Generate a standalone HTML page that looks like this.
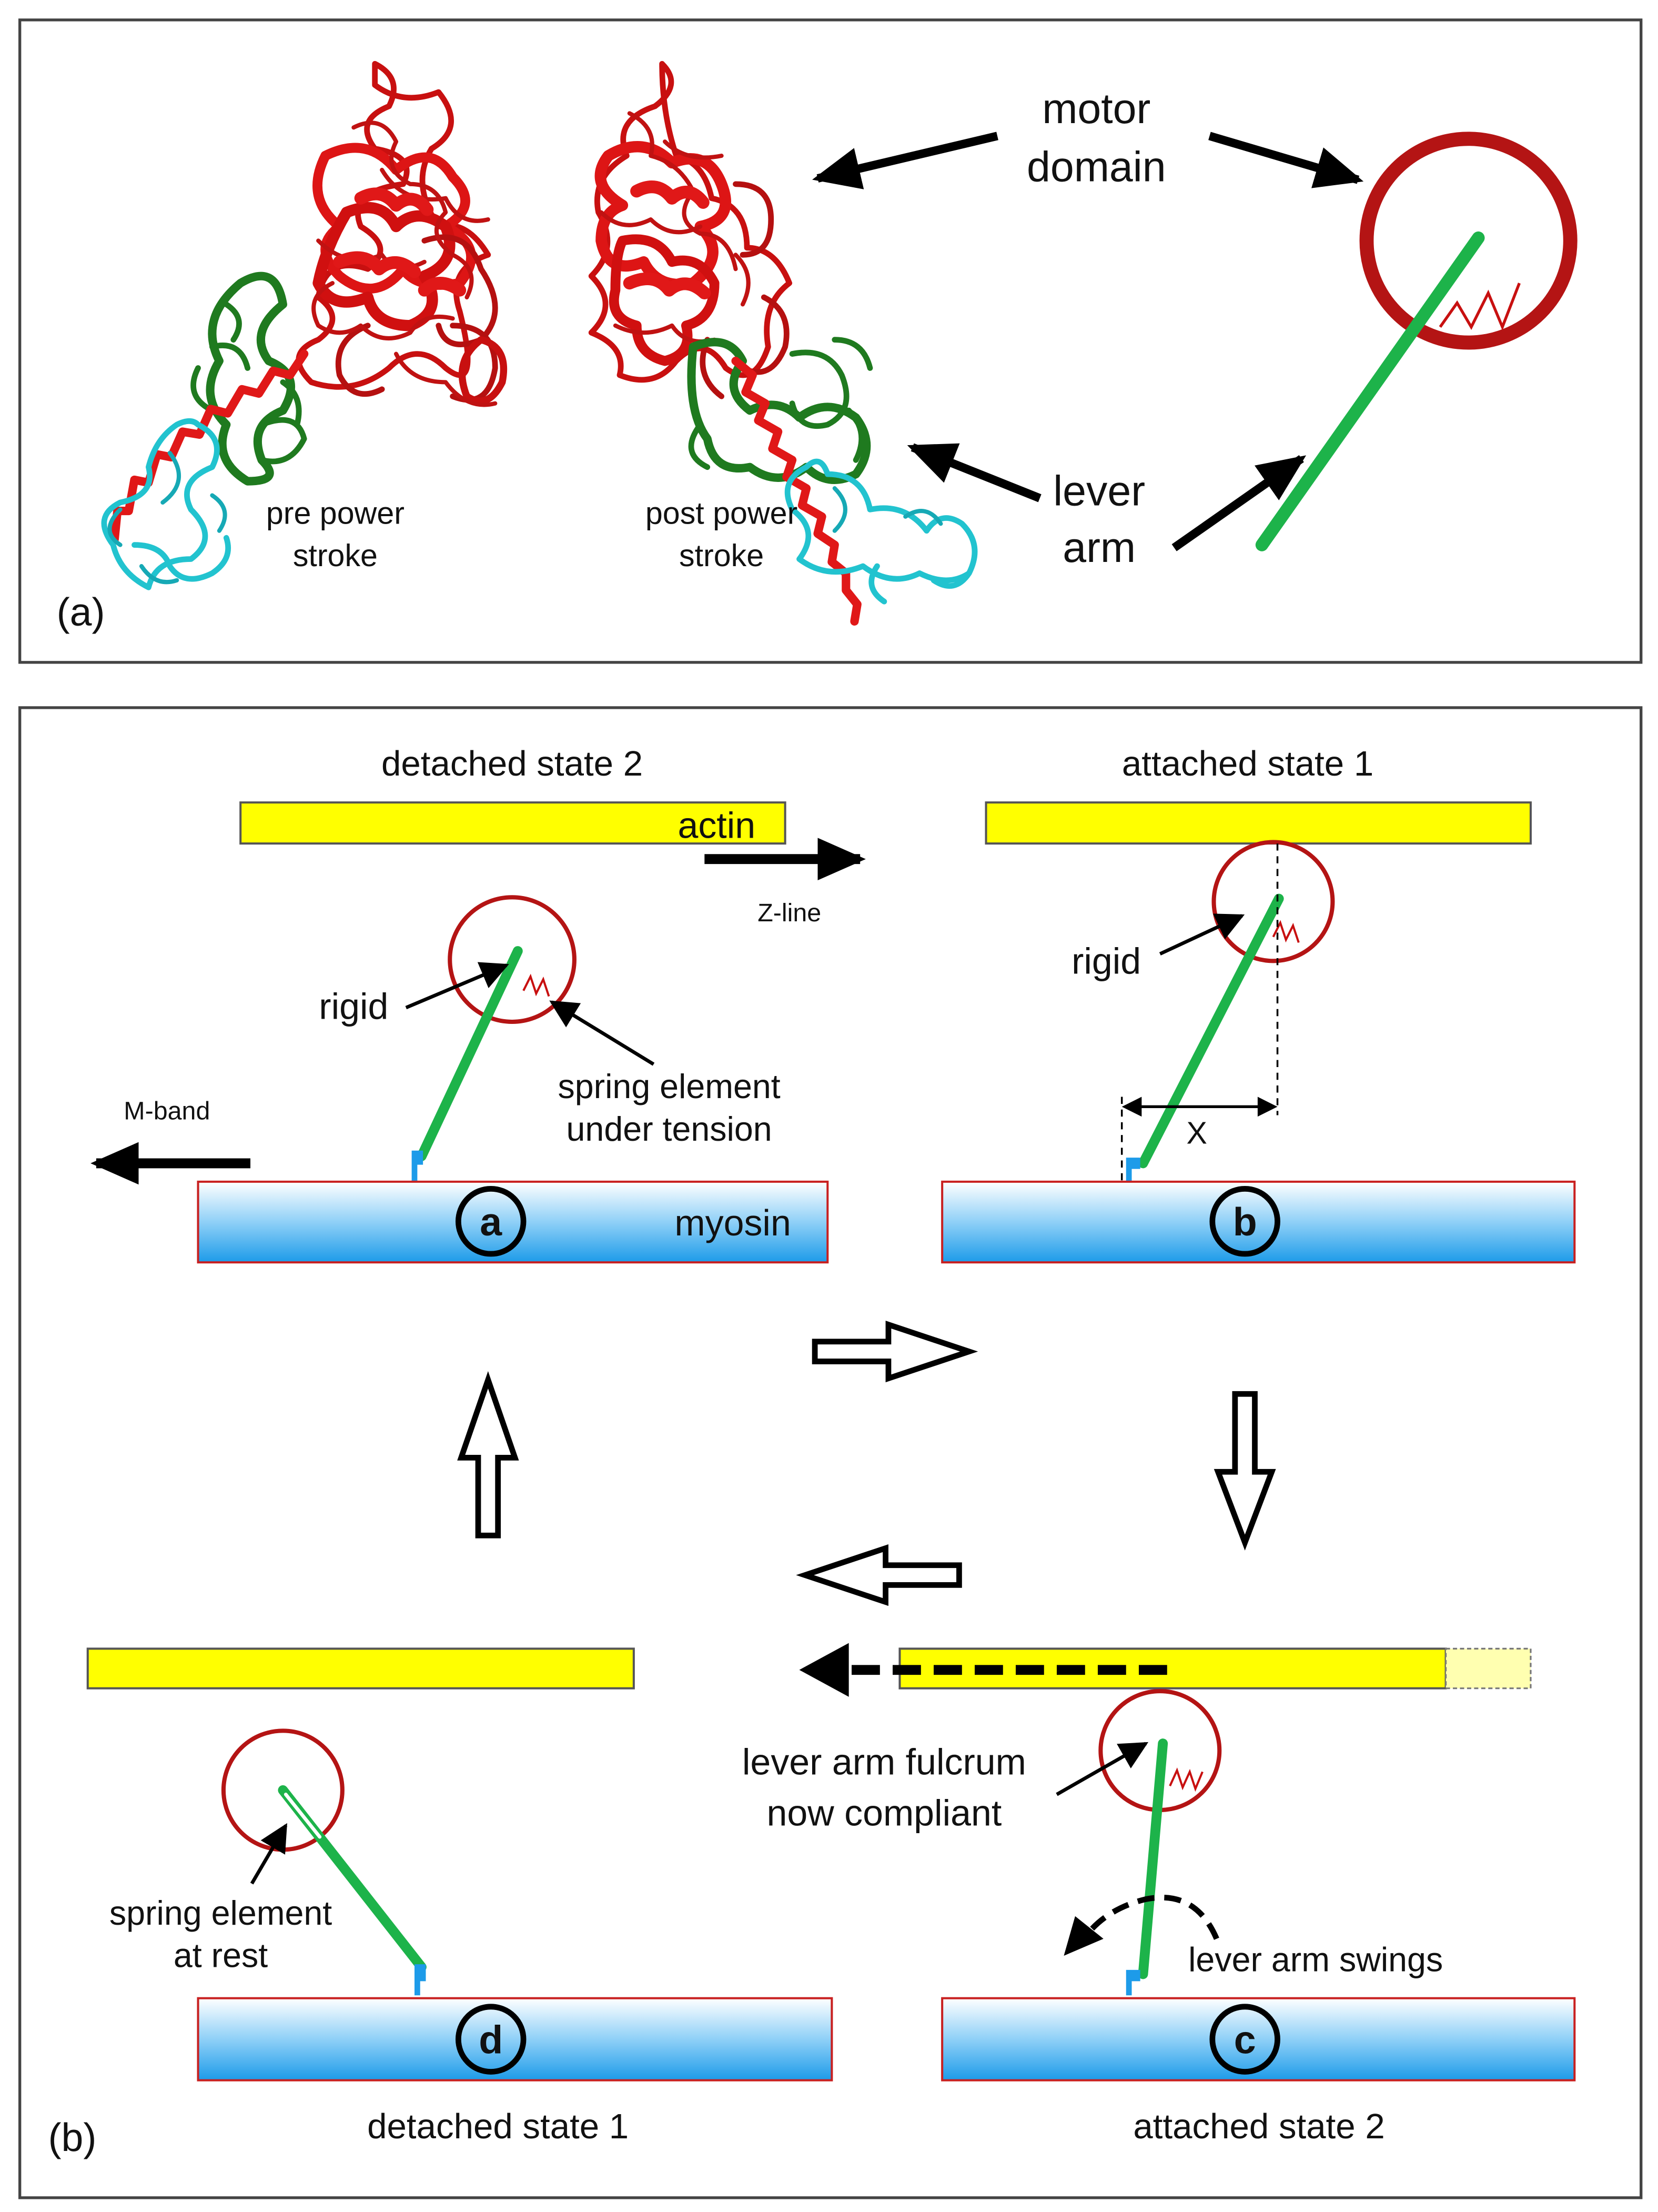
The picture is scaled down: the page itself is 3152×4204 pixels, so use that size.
<!DOCTYPE html>
<html><head><meta charset="utf-8"><style>
html,body{margin:0;padding:0;background:#fff}
svg{display:block}
text{font-family:"Liberation Sans",sans-serif;fill:#111}
</style></head><body>
<svg width="3152" height="4204" viewBox="0 0 1172 1563" xmlns="http://www.w3.org/2000/svg">
<defs>
<linearGradient id="my" x1="0" y1="0" x2="0" y2="1"><stop offset="0" stop-color="#ffffff"/><stop offset="0.5" stop-color="#8fd0f7"/><stop offset="1" stop-color="#1d9be9"/></linearGradient>
<marker id="ahb" markerWidth="34" markerHeight="30" refX="30" refY="15" orient="auto" markerUnits="userSpaceOnUse" viewBox="0 0 34 30"><path d="M0,0 L34,15 L0,30 z" fill="#000"/></marker>
<marker id="ahm" markerWidth="20" markerHeight="20" refX="18" refY="10" orient="auto" markerUnits="userSpaceOnUse" viewBox="0 0 20 20"><path d="M0,0 L20,10 L0,20 z" fill="#000"/></marker>
</defs>
<rect x="14" y="14" width="1146" height="454" fill="#fff" stroke="#444" stroke-width="2"/>
<rect x="14" y="500" width="1146" height="1053" fill="#fff" stroke="#444" stroke-width="2"/>

<!-- pre power stroke protein -->
<g fill="none" stroke-linejoin="round" stroke-linecap="round">
<path d="M265,45 q20,10 10,30 q-25,10 -10,30 q30,5 20,25 q-40,5 -30,30 q25,15 5,30 q-30,-10 -35,20 q20,15 0,30 q-25,10 -5,30 q30,10 55,-10 q20,-20 40,0 q25,20 10,-40 q-10,-30 20,-40 q-15,-25 -35,-20 q-20,-30 -5,-55 q25,-15 5,-40 q-25,10 -45,-5 z" stroke="#c81010" stroke-width="4"/>
<path d="M230,110 q30,-15 50,10 q25,-20 40,5 q20,20 -5,35 q30,15 10,40 q-30,5 -40,-10 q-20,25 -45,5 q-20,-20 0,-35 q-25,-20 -10,-50 z" stroke="#dd1515" stroke-width="7"/>
<path d="M245,150 q25,-10 35,10 q15,-15 35,0 q10,25 -15,35 q15,25 -10,35 q-25,0 -30,-20 q-25,10 -35,-10 q5,-25 20,-50 z" stroke="#d01010" stroke-width="8"/>
<path d="M300,170 q30,-10 40,20 q20,30 0,50 q-25,10 -30,-10 M320,230 q30,0 30,30 q-5,30 -30,20 M260,230 q-25,10 -20,35 q10,20 30,10" stroke="#b51010" stroke-width="4"/>
<path d="M340,240 q20,5 15,30 q-10,20 -25,10 q-10,-25 10,-40 z" stroke="#c81010" stroke-width="5"/>
<path d="M250,90 q20,-10 30,10 q-10,20 10,30 q20,0 25,20 q-15,15 5,30 q20,10 10,30 M235,200 q-20,10 -10,30 q15,10 30,0 q15,15 35,5 q10,-15 30,-10 M270,120 q15,25 45,20 q10,20 30,15 M225,170 q20,20 45,10 q10,15 30,5 M280,250 q10,20 35,20 q15,20 35,15" stroke="#c01212" stroke-width="3"/>
<path d="M255,140 q15,-8 25,5 q12,-10 22,3 M240,185 q18,-8 28,5 q12,-10 25,2 M300,205 q10,-10 25,0" stroke="#e01818" stroke-width="9"/>
<path d="M170,200 q25,-15 30,15 q-25,20 -10,40 q25,10 10,35 q-25,10 -15,35 q15,15 -10,15 q-25,-15 -15,-40 q-20,-20 -5,-45 q-15,-30 15,-55 z" stroke="#1f7a1f" stroke-width="6"/>
<path d="M150,245 q20,-5 25,15 M140,260 q-10,20 10,30 M185,300 q25,-10 30,10 q-10,20 -30,15 M160,215 q15,10 5,25 M200,270 q15,10 10,30" stroke="#1f7a1f" stroke-width="4"/>
<path d="M215,250 l-10,15 l-12,-3 l-10,16 l-12,-3 l-10,17 l-12,-3 l-8,18 l-12,-2 l-8,18 l-10,-2 l-6,20 l-10,-2 l-4,22 l-8,0 l-2,20" stroke="#e01818" stroke-width="6"/>
<path d="M140,300 q20,10 10,30 q-25,10 -15,30 q20,20 0,35 q-25,0 -30,20 q-20,-10 -25,-30 q-15,-20 5,-30 q25,-5 20,-25 q5,-20 20,-30 q10,-5 15,0 M95,385 q20,0 25,15 q10,15 30,5 q15,-10 10,-25" stroke="#22c3cf" stroke-width="4"/>
<path d="M120,320 q15,20 -5,35 M150,350 q15,10 5,25 M85,360 q-15,15 0,25 M100,400 q10,15 25,10" stroke="#16a9b5" stroke-width="3"/>
</g>

<!-- post power stroke protein -->
<g fill="none" stroke-linejoin="round" stroke-linecap="round">
<path d="M468,45 q15,15 -5,30 q-30,10 -20,35 q-25,15 -20,40 q15,25 -5,45 q20,20 0,40 q25,10 20,30 q25,10 40,-10 q20,-20 35,5 q20,15 30,-15 q-5,-30 15,-45 q-10,-25 -30,-25 q0,-30 -25,-35 q-5,-25 -25,-30 q-10,-30 -10,-65 z" stroke="#c81010" stroke-width="4"/>
<path d="M430,110 q25,-15 45,5 q25,-10 35,15 q10,25 -15,30 q20,20 -5,40 q-25,5 -35,-15 q-25,10 -30,-15 q0,-20 15,-25 q-25,-15 -10,-35 z" stroke="#dd1515" stroke-width="8"/>
<path d="M440,170 q25,-5 35,15 q20,-5 30,15 q0,25 -20,30 q5,20 -15,25 q-20,-5 -20,-25 q-20,-5 -15,-25 q0,-25 5,-35 z" stroke="#d01010" stroke-width="7"/>
<path d="M520,130 q25,0 25,25 q0,25 -20,25 M540,210 q20,10 15,35 q-10,25 -30,15 M500,240 q-10,25 10,40" stroke="#b51010" stroke-width="4"/>
<path d="M445,80 q20,10 15,30 q20,5 30,25 q-15,20 5,30 q20,0 25,25 M425,150 q15,15 35,5 q15,15 35,5 M435,230 q20,10 40,0 q10,15 30,10 M470,100 q15,15 40,10 M520,180 q15,15 5,35" stroke="#c01212" stroke-width="3"/>
<path d="M450,135 q15,-8 25,5 q12,-10 22,3 M445,200 q18,-8 28,5 q12,-10 25,2" stroke="#e01818" stroke-width="9"/>
<path d="M490,245 q25,-10 35,10 q-15,20 5,35 q20,-10 35,5 q20,-15 40,0 q15,20 0,40 q-20,10 -35,-5 q-20,15 -40,0 q-25,5 -30,-20 q-15,-20 -10,-65 z" stroke="#1f7a1f" stroke-width="6"/>
<path d="M560,250 q25,-5 35,15 q10,25 -10,35 q-20,5 -25,-15 M590,240 q20,0 25,20 M495,300 q-15,20 5,30 M600,290 q15,15 5,35" stroke="#1f7a1f" stroke-width="4"/>
<path d="M520,255 l12,10 l-5,12 l14,8 l-5,12 l14,8 l-4,12 l14,8 l-4,12 l14,8 l-3,12 l14,8 l-3,12 l12,8 l-2,12 l10,8 l0,12 l8,10 l-2,12" stroke="#e01818" stroke-width="6"/>
<path d="M570,330 q-20,10 -10,30 q20,15 5,35 q20,15 45,5 q20,15 40,5 q20,10 35,0 q10,-20 -5,-35 q-15,-10 -25,5 q-15,-20 -40,-15 q-5,-25 -30,-25 q-5,-15 -15,-5 M620,400 q-10,15 5,25 M660,410 q15,10 25,-5" stroke="#22c3cf" stroke-width="4"/>
<path d="M590,345 q15,15 0,30 M640,365 q15,-10 25,5" stroke="#16a9b5" stroke-width="3"/>
</g>

<text x="237" y="370" font-size="22" text-anchor="middle">pre power</text>
<text x="237" y="400" font-size="22" text-anchor="middle">stroke</text>
<text x="510" y="370" font-size="22" text-anchor="middle">post power</text>
<text x="510" y="400" font-size="22" text-anchor="middle">stroke</text>
<text x="775" y="87" font-size="30" text-anchor="middle">motor</text>
<text x="775" y="128" font-size="30" text-anchor="middle">domain</text>
<text x="777" y="357" font-size="30" text-anchor="middle">lever</text>
<text x="777" y="397" font-size="30" text-anchor="middle">arm</text>
<text x="40" y="442" font-size="28">(a)</text>
<line x1="705" y1="96" x2="578" y2="126" stroke="#000" stroke-width="6" marker-end="url(#ahb)"/>
<line x1="855" y1="96" x2="960" y2="127" stroke="#000" stroke-width="6" marker-end="url(#ahb)"/>
<line x1="735" y1="352" x2="645" y2="316" stroke="#000" stroke-width="6" marker-end="url(#ahb)"/>
<line x1="830" y1="387" x2="920" y2="324" stroke="#000" stroke-width="6" marker-end="url(#ahb)"/>
<circle cx="1038" cy="170" r="72" fill="none" stroke="#b41414" stroke-width="10"/>
<line x1="1045" y1="168" x2="892" y2="385" stroke="#1db34a" stroke-width="9" stroke-linecap="round"/>
<polyline points="1018,231 1030,214 1040,231 1052,207 1062,231 1074,200" fill="none" stroke="#c81010" stroke-width="2"/>

<!-- panel b -->
<text x="362" y="548" font-size="25" text-anchor="middle">detached state 2</text>
<text x="882" y="548" font-size="25" text-anchor="middle">attached state 1</text>
<rect x="170" y="567" width="385" height="29" fill="#ffff00" stroke="#555" stroke-width="1.5"/>
<text x="534" y="592" font-size="26" text-anchor="end">actin</text>
<rect x="697" y="567" width="385" height="29" fill="#ffff00" stroke="#555" stroke-width="1.5"/>
<line x1="498" y1="607" x2="608" y2="607" stroke="#000" stroke-width="7" marker-end="url(#ahb)"/>
<text x="558" y="651" font-size="18" text-anchor="middle">Z-line</text>

<circle cx="362" cy="678" r="44" fill="none" stroke="#b41414" stroke-width="3"/>
<line x1="366" y1="672" x2="298" y2="817" stroke="#1db34a" stroke-width="7" stroke-linecap="round"/>
<path d="M291,813 h8 v10 h-4 v12 h-4 z" fill="#1d9be9"/>
<polyline points="370,700 375,690 379,702 384,692 388,704" fill="none" stroke="#c81010" stroke-width="1.5"/>
<text x="250" y="720" font-size="26" text-anchor="middle">rigid</text>
<line x1="287" y1="712" x2="358" y2="682" stroke="#000" stroke-width="2.5" marker-end="url(#ahm)"/>
<text x="473" y="776" font-size="24" text-anchor="middle">spring element</text>
<text x="473" y="806" font-size="24" text-anchor="middle">under tension</text>
<line x1="462" y1="752" x2="390" y2="708" stroke="#000" stroke-width="2.5" marker-end="url(#ahm)"/>
<text x="118" y="791" font-size="18" text-anchor="middle">M-band</text>
<line x1="177" y1="822" x2="68" y2="822" stroke="#000" stroke-width="7" marker-end="url(#ahb)"/>
<rect x="140" y="835" width="445" height="57" fill="url(#my)" stroke="#c82020" stroke-width="1.5"/>
<circle cx="347" cy="863" r="23" fill="none" stroke="#000" stroke-width="4"/>
<text x="347" y="873" font-size="28" font-weight="bold" text-anchor="middle">a</text>
<text x="518" y="873" font-size="26" text-anchor="middle">myosin</text>

<circle cx="900" cy="637" r="42" fill="none" stroke="#b41414" stroke-width="3"/>
<line x1="904" y1="635" x2="808" y2="822" stroke="#1db34a" stroke-width="7" stroke-linecap="round"/>
<path d="M796,818 h10 v8 h-6 v10 h-4 z" fill="#1d9be9"/>
<polyline points="900,662 905,652 909,664 914,654 918,666" fill="none" stroke="#c81010" stroke-width="1.5"/>
<line x1="903" y1="596" x2="903" y2="788" stroke="#000" stroke-width="1.3" stroke-dasharray="5,4"/>
<line x1="793" y1="775" x2="793" y2="834" stroke="#000" stroke-width="1.3" stroke-dasharray="5,4"/>
<line x1="805" y1="782" x2="891" y2="782" stroke="#000" stroke-width="2"/>
<path d="M793,782 l14,-7 v14 z M903,782 l-14,-7 v14 z" fill="#000"/>
<text x="846" y="808" font-size="22" text-anchor="middle">X</text>
<text x="782" y="688" font-size="26" text-anchor="middle">rigid</text>
<line x1="820" y1="674" x2="878" y2="647" stroke="#000" stroke-width="2.5" marker-end="url(#ahm)"/>
<rect x="666" y="835" width="447" height="57" fill="url(#my)" stroke="#c82020" stroke-width="1.5"/>
<circle cx="880" cy="863" r="23" fill="none" stroke="#000" stroke-width="4"/>
<text x="880" y="873" font-size="28" font-weight="bold" text-anchor="middle">b</text>

<g fill="#fff" stroke="#000" stroke-width="4" stroke-linejoin="miter">
<path d="M576,948 h52 v-12 l57,19 l-57,19 v-12 h-52 z"/>
<path d="M873,985 h14 v55 h12 l-19,50 l-19,-50 h12 z"/>
<path d="M338,1085 h14 v-55 h12 l-19,-55 l-19,55 h12 z"/>
<path d="M678,1106 h-52 v-12 l-57,19 l57,19 v-12 h52 z"/>
</g>

<rect x="62" y="1165" width="386" height="28" fill="#ffff00" stroke="#555" stroke-width="1.5"/>
<rect x="636" y="1165" width="386" height="28" fill="#ffff00" stroke="#555" stroke-width="1.5"/>
<rect x="1022" y="1165" width="60" height="28" fill="#ffffb0" stroke="#777" stroke-width="1.2" stroke-dasharray="3,2"/>
<line x1="825" y1="1180" x2="600" y2="1180" stroke="#000" stroke-width="7" stroke-dasharray="20,9"/>
<path d="M565,1180 l35,-19 v38 z" fill="#000"/>

<circle cx="200" cy="1265" r="42" fill="none" stroke="#b41414" stroke-width="3"/>
<line x1="200" y1="1265" x2="298" y2="1390" stroke="#1db34a" stroke-width="7" stroke-linecap="round"/>
<line x1="202" y1="1268" x2="226" y2="1298" stroke="#fff" stroke-width="2.5" stroke-linecap="round"/>
<path d="M293,1388 h8 v12 h-4 v10 h-4 z" fill="#1d9be9"/>
<text x="156" y="1360" font-size="24" text-anchor="middle">spring element</text>
<text x="156" y="1390" font-size="24" text-anchor="middle">at rest</text>
<line x1="178" y1="1331" x2="202" y2="1290" stroke="#000" stroke-width="2.5" marker-end="url(#ahm)"/>

<circle cx="820" cy="1237" r="42" fill="none" stroke="#b41414" stroke-width="3"/>
<line x1="822" y1="1232" x2="808" y2="1395" stroke="#1db34a" stroke-width="7" stroke-linecap="round"/>
<path d="M796,1392 h10 v8 h-6 v10 h-4 z" fill="#1d9be9"/>
<polyline points="827,1262 832,1251 836,1263 841,1252 845,1264 850,1252" fill="none" stroke="#c81010" stroke-width="1.5"/>
<text x="625" y="1254" font-size="26" text-anchor="middle">lever arm fulcrum</text>
<text x="625" y="1290" font-size="26" text-anchor="middle">now compliant</text>
<line x1="747" y1="1268" x2="810" y2="1232" stroke="#000" stroke-width="2.5" marker-end="url(#ahm)"/>
<path d="M860,1370 Q845,1335 810,1342 Q785,1348 770,1365" fill="none" stroke="#000" stroke-width="4" stroke-dasharray="12,7"/>
<path d="M752,1382 l8,-28 l20,16 z" fill="#000"/>
<text x="930" y="1393" font-size="24" text-anchor="middle">lever arm swings</text>

<rect x="140" y="1412" width="448" height="58" fill="url(#my)" stroke="#c82020" stroke-width="1.5"/>
<circle cx="347" cy="1441" r="23" fill="none" stroke="#000" stroke-width="4"/>
<text x="347" y="1451" font-size="28" font-weight="bold" text-anchor="middle">d</text>
<rect x="666" y="1412" width="447" height="58" fill="url(#my)" stroke="#c82020" stroke-width="1.5"/>
<circle cx="880" cy="1441" r="23" fill="none" stroke="#000" stroke-width="4"/>
<text x="880" y="1451" font-size="28" font-weight="bold" text-anchor="middle">c</text>

<text x="34" y="1520" font-size="28">(b)</text>
<text x="352" y="1511" font-size="25" text-anchor="middle">detached state 1</text>
<text x="890" y="1511" font-size="25" text-anchor="middle">attached state 2</text>
</svg>
</body></html>
